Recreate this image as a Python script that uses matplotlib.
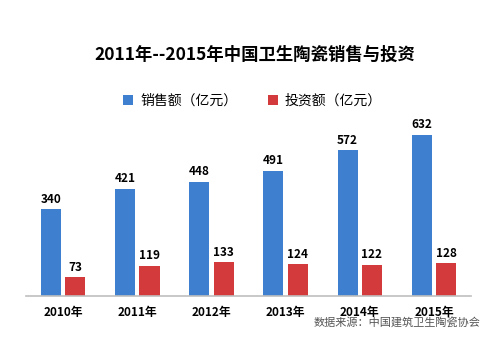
import matplotlib
matplotlib.use("Agg")
import matplotlib.pyplot as plt
import numpy as np

plt.rcParams["font.family"] = ["Noto Sans CJK SC", "DejaVu Sans"]

COLOR_SALES = "#3F7FCF"
COLOR_INVEST = "#D33A3B"

years = ["2010年", "2011年", "2012年", "2013年", "2014年", "2015年"]
sales = [340, 421, 448, 491, 572, 632]
invest = [73, 119, 133, 124, 122, 128]

fig = plt.figure(figsize=(5.0, 3.53), dpi=100)
ax = fig.add_axes([0.052, 0.1615, 0.89, 0.505])

x = np.arange(len(years))
w = 0.27
b1 = ax.bar(x - 0.165, sales, w, color=COLOR_SALES, label="销售额（亿元）")
b2 = ax.bar(x + 0.165, invest, w, color=COLOR_INVEST, label="投资额（亿元）")
for bars in (b1, b2):
    for r in bars:
        ax.text(r.get_x() + r.get_width() / 2, r.get_height() + 14, f"{r.get_height():.0f}",
                ha="center", va="bottom", fontsize=8.5, fontweight="bold")

ax.set_xlim(-0.5, len(years) - 0.5)
ax.set_ylim(0, 700)
ax.set_xticks(x)
ax.set_xticklabels(years, fontsize=8.5, fontweight="bold")
ax.tick_params(axis="x", length=0, pad=7)
ax.set_yticks([])
for s in ("top", "right", "left"):
    ax.spines[s].set_visible(False)
ax.spines["bottom"].set_color("#BFBFBF")
ax.spines["bottom"].set_linewidth(1.2)

fig.text(0.51, 0.845, "2011年--2015年中国卫生陶瓷销售与投资", ha="center", va="center",
         fontsize=12.5, fontweight="bold")
fig.legend(handles=[b1, b2], loc="center", bbox_to_anchor=(0.505, 0.715), ncol=2,
           frameon=False, fontsize=10, handlelength=0.7, handleheight=0.7,
           columnspacing=2.2, handletextpad=0.5)
fig.text(0.96, 0.085, "数据来源：中国建筑卫生陶瓷协会", ha="right", va="center",
         fontsize=8, color="#555555")

fig.savefig("out.png", dpi=100)
